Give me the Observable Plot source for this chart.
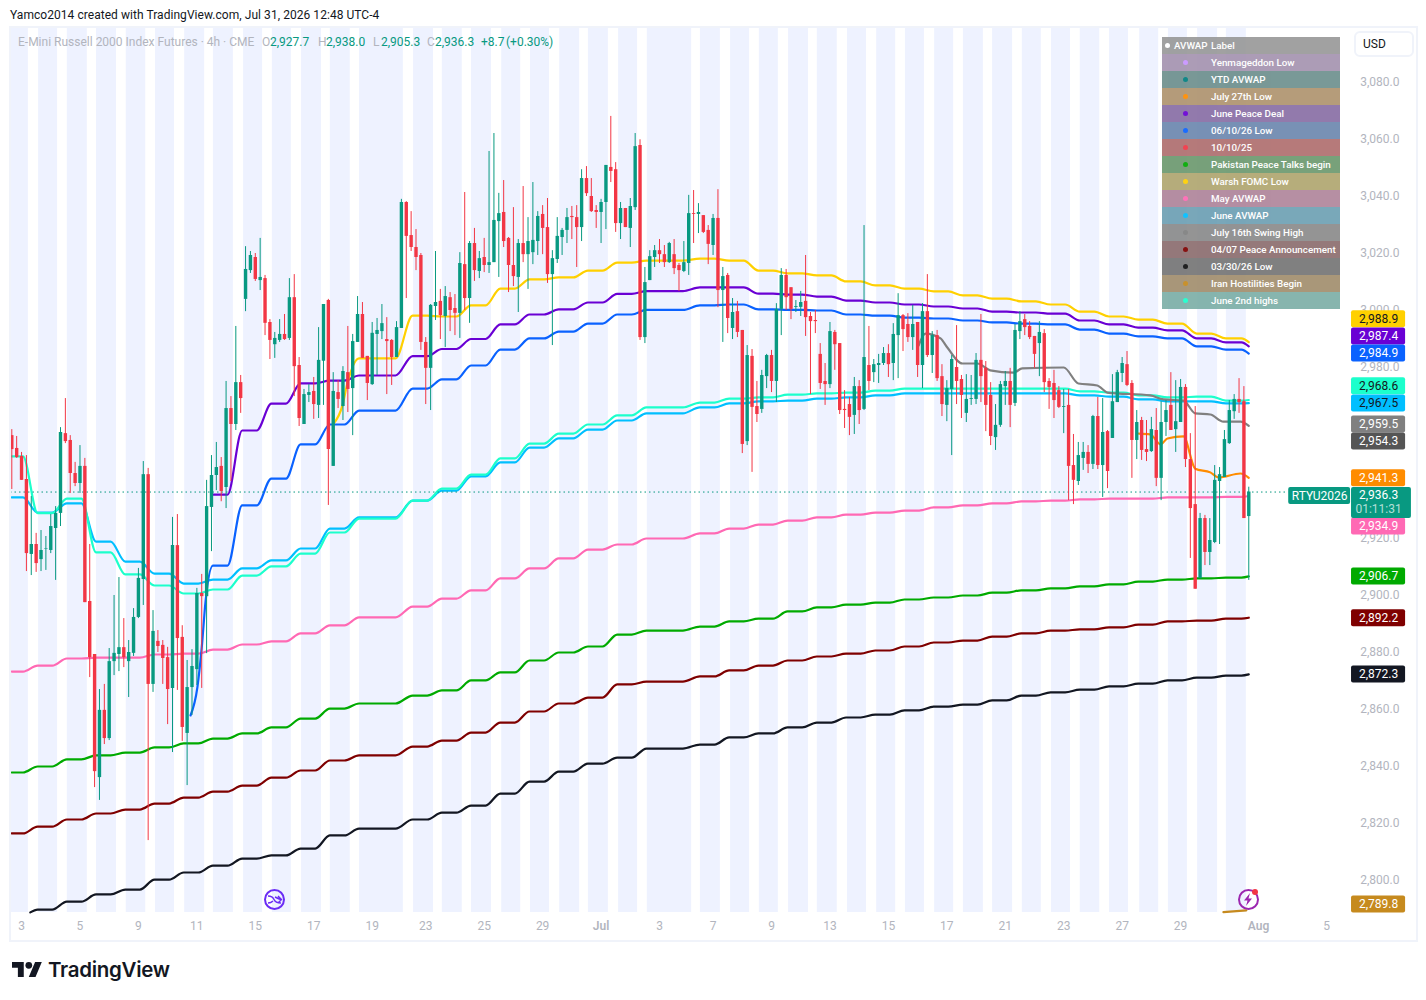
<!DOCTYPE html>
<html><head><meta charset="utf-8">
<script src="https://cdn.jsdelivr.net/npm/d3@7"></script>
<script src="https://cdn.jsdelivr.net/npm/@observablehq/plot@0.6"></script>
<style>
html,body{margin:0;padding:0;background:#fff;font-family:Roboto,sans-serif;}
#page{position:relative;width:1426px;height:1000px;overflow:hidden;}
#page svg{position:absolute;left:0;top:0;}
.abs{position:absolute;white-space:nowrap;line-height:14px;}
#frame{position:absolute;left:9px;top:26px;width:1405px;height:912px;border:2px solid #f0f3fa;pointer-events:none;}
#legend{position:absolute;left:1162px;top:37px;width:178px;}
#legend .row{position:relative;height:17px;opacity:.93;color:#fff;font-size:9.8px;font-weight:500;line-height:17px;}
#legend .row span{position:absolute;left:49px;white-space:nowrap;}
#legend .row i{position:absolute;left:21px;top:6px;width:5px;height:5px;border-radius:50%;}
</style></head><body><div id="page"></div>
<script>
const opens=[2956.1,2951.6,2948.8,2940.7,2914.4,2917.9,2912.6,2916.3,2915.8,2923.5,2928.8,2956.8,2954.4,2942.8,2939.3,2945.3,2897.9,2879.3,2836.1,2859.7,2849.8,2876.8,2879.3,2881.7,2876.8,2879.7,2892.3,2905.6,2942.4,2868.8,2883.9,2882.5,2878.2,2867.4,2917.5,2885.3,2851.6,2867.7,2874.0,2900.7,2899.6,2930.9,2942.1,2945.3,2937.9,2965.6,2960,2974.7,3003.9,3014,3018.6,3010.5,3011.2,2995.8,2988,2989.5,2991.6,2990.2,3004.5,2980.7,2960,2970.2,2971.6,2966.7,2982.2,3003.5,2945.3,2971.2,2966.3,2978.2,2972.6,2988.8,2998.6,2983.9,2974,2991.6,2992.6,2989.8,2989.5,2983.5,2993.7,3037.9,3026.3,3022.1,3019.3,2988.8,2979.7,3001.4,3003.2,2997.9,3004.5,3000.7,2999,3016.1,3004.2,3023.5,3013.7,3018.6,3015.8,3016.8,3031.2,3034.4,3025.3,3015.8,3011.6,3023.5,3019.6,3020.3,3024.2,3033.7,3029.1,3012.6,3017.9,3025.6,3028.1,3033,3032.6,3029.1,3046.3,3040,3035.1,3034.4,3037.9,3050.2,3049.4,3030.5,3035.8,3028.8,3036.1,3057.9,2990.5,3010.5,3018.6,3021,3019.6,3016.8,3019.6,3015.8,3013.7,3016.5,3034,3033.7,3033.3,3028.1,3022.8,3032.3,3007,3012.3,2993.7,2999.6,2993,2954,2983.9,2966.3,2965.3,2976.8,2984.2,2975.1,3000.4,3012.3,3008,3001.1,3001.1,3003.2,2997.9,2996.5,2984.6,2975.1,2974,2992.3,2988.4,2965.3,2967,2963.2,2973.3,2965.3,2980.7,2978.2,2980.7,2981.4,2984.9,2981.4,2991.2,2998.2,2995.1,2990.5,2995.8,2980.7,2999.6,2984.2,2991.2,2976.8,2966.7,2972.3,2980,2975.8,2963.9,2968.8,2968.8,2982.5,2979.7,2970.2,2955.4,2959.7,2973.3,2975.1,2967.4,2992.6,2996.8,2994.4,2990.9,2988.4,2991.9,2975.1,2974.4,2971.9,2966,2966.7,2945.6,2940,2948.1,2950.2,2946,2962.8,2945.6,2957.5,2955.1,2967.7,2977.9,2981,2974.4,2954.4,2961.4,2951.2,2950.5,2957.9,2941.1,2960.7,2966.7,2958.2,2960.7,2973,2947.7,2931.9,2905.9,2927,2915.1,2918.6,2940,2941.4,2953.3,2964.5,2968.8,2968,2927.7];
const highs=[2958.2,2955.8,2950.2,2949.1,2934.7,2921.8,2922.8,2920.7,2928.4,2931.2,2958.9,2969.1,2956.1,2946.7,2952.6,2948.1,2917.9,2879.3,2867,2868.8,2881.4,2900,2906.3,2891.9,2884.2,2895.4,2909.5,2947,2944.6,2894.7,2887.7,2884.2,2881.8,2927.4,2928.4,2889.4,2877.2,2881,2902.5,2907.4,2940.4,2949.1,2953.7,2948.4,2975.1,2969.8,2994.4,2977.2,3022.4,3020.7,3020,3025.3,3012.3,2996.8,2992.3,2996.8,2998.6,3011.2,3012.6,2983.5,2972.3,2974,2976.5,2994,3002.1,3003.9,2978.2,2975.4,2980.3,2994.4,2991.6,3004.9,3002.8,2983.9,2995.8,2997.2,3002.1,2997.5,2989.8,2996.1,3039,3038.2,3034.7,3028.4,3020,2990.5,3002.1,3020.7,3007.4,3008.4,3006.3,3005.6,3020.3,3041.4,3024.2,3028.8,3020.7,3025.3,3055.8,3062.1,3041.1,3045.6,3025.6,3036.1,3024.9,3043.5,3032.6,3044.9,3034.7,3036.8,3039.3,3021,3032.6,3028.8,3035.8,3036.5,3036.8,3049.4,3050.5,3046.3,3036.8,3039,3050.9,3068.1,3051.9,3037.9,3035.8,3039.3,3062.1,3059.9,3015.1,3021,3022.8,3024.9,3022.8,3023.9,3024.9,3016.5,3024.2,3040.4,3042.1,3037.5,3033.3,3029.8,3033.7,3042.4,3015.1,3013,3004.2,3003.2,2993,2987.7,2986.3,2975.1,2979,2984.6,2986,3002.4,3014.7,3014.4,3008,3003.5,3006.7,3019.3,2999.3,3000,2988.4,2981.4,2995.8,2993,2988.4,2971.9,2969.5,2976.5,2975.4,3029.8,2994.4,2982.8,2984.6,2987,2988,2995.4,3005.9,2998.6,2998.9,3001.8,2995.8,3002.4,3012.6,2992.6,2993,2981,2975.4,2984.2,2994.7,2977.2,2977.5,2977.2,2984.9,2998.6,2982.1,2974.7,2967,2975.1,2978.6,2979.7,2995.1,2999.6,2998.6,2996.1,2990.9,2996.1,2993.3,2976.1,2979,2973.3,2972.3,2972.3,2956.5,2953.7,2953.7,2952.6,2963.2,2969.5,2969.1,2957.9,2977.5,2979,2983.5,2985.6,2975.4,2964.9,2962.5,2961.4,2962.5,2965.6,2968,2968.4,2978.2,2975.4,2975.8,2974,2956.8,2966.3,2928.8,2928.1,2927,2945.6,2944.9,2957.9,2968.4,2970.5,2976.1,2973.3,2938.0];
const lows=[2937.2,2948.1,2940.4,2908.4,2907,2908.1,2908.4,2908.8,2914.7,2905.3,2924.2,2953.3,2935.8,2938.2,2935.8,2897.5,2871.2,2832.6,2828.1,2847.7,2849.1,2871.9,2873.3,2874.7,2864.2,2878.6,2891.9,2896.5,2814,2866,2880,2868.8,2854.7,2844.9,2866.7,2848.8,2833.3,2857.9,2868.4,2867.4,2879.6,2915.4,2936.8,2932.9,2930.5,2940,2957.9,2963.9,2999.6,3013,3010.2,3007,2991.2,2982.8,2983.2,2988.8,2989.5,2989.5,2969.8,2959.3,2960,2967.7,2961.8,2962.1,2966.7,2931.6,2945.3,2965.6,2961.4,2964.2,2956.1,2988.8,2983.2,2968.4,2973.7,2977.2,2989.8,2970.5,2973.7,2983.5,2993.7,3004.2,3020.7,3014,2986,2967,2964.9,2996.5,2989.8,2987,2992.6,2991.2,2990.2,3000,2995.5,3010.2,3011.2,3013.3,3013,3016.8,3011.6,3022.1,3006.3,3008.4,2999.3,3016.8,3007.4,3016.1,3019.3,3019.6,3009.5,2987.7,3016.5,3019.3,3023.5,3024.9,3015.1,3024.2,3040,3034.4,3028.8,3023.5,3028.4,3044.9,3027.4,3024.9,3029.1,3022.1,3035.1,2989.5,2988.4,3010.5,3015.1,3016.5,3015.1,3016.5,3012.6,3006.7,3013.3,3012.3,3023.5,3027,3027,3016.1,3019.3,3001,2988.8,2991.9,2989.8,2990.5,2949.8,2952.6,2943.2,2960.7,2963.9,2972.6,2971.2,2967.7,2991.2,3000,2996.8,2999.3,2997.9,2990.9,2970.5,2991.9,2972.3,2966.7,2972.6,2979,2963.5,2958.6,2956.1,2956.5,2960,2964.9,2971.9,2974.7,2974.4,2980.7,2976.5,2975.4,2976.1,2985.6,2988.8,2986,2976.5,2972.6,2983.5,2977.9,2975.1,2962.8,2961,2949.1,2967,2962.1,2960.7,2966.7,2967,2967.7,2957.5,2952.6,2950.9,2959,2966.7,2958.9,2966.3,2989.8,2991.2,2989.8,2979.7,2976.8,2971.2,2965.3,2962.1,2965.6,2956.8,2933.3,2931.9,2938.6,2943.9,2942.8,2944.2,2944.2,2934.4,2937.5,2955.1,2967.7,2974.7,2973.3,2941.1,2947.7,2947.4,2947,2950.2,2938.2,2933.3,2955.8,2957.9,2950.2,2960.7,2944.9,2913,2902.2,2905.9,2910.5,2910.5,2918.2,2917.9,2941.4,2953,2961.8,2963.9,2927,2905.3];
const closes=[2951.2,2948.4,2940.4,2914.7,2917.9,2911.2,2915.8,2916.5,2924.2,2928.8,2957.2,2954,2942.8,2939.3,2945.3,2897.5,2878.2,2838.2,2859.7,2849.8,2876.8,2879.7,2881.7,2878.2,2880,2892.3,2906,2942.4,2868.8,2887.4,2882.1,2877.9,2867,2917.5,2884.9,2853.7,2867.7,2875.1,2900.7,2899.6,2931.2,2942.1,2944.9,2936.5,2965.6,2960,2974.7,2969.1,3014.4,3019.3,3010.9,3011.6,2995.5,2989.5,2990.2,2991.6,2989.8,3004.5,2980.3,2962.1,2970.5,2971.2,2967,2982.5,3002.1,2951.2,2971.6,2968.8,2978.6,2972.3,2989.1,2998.6,2983.2,2974.4,2992,2993,2995.4,2989.1,2983.5,2994,3037.9,3026,3022.1,3018.6,2988.8,2979.7,3001.8,3002.8,2998.2,3004.9,3000,2999,3016.5,3004.2,3023.5,3014,3018.2,3015.8,3016.8,3031.6,3034,3024.2,3015.8,3011.9,3023.5,3019.6,3024.2,3024.6,3033,3028.8,3012.6,3018.2,3026,3028.1,3032.6,3032.6,3029.1,3046.3,3041,3034.7,3034.4,3037.9,3050.9,3048.8,3030.5,3035.8,3029.1,3036.5,3057.5,2990.5,3009.8,3018.9,3021,3019.6,3016.8,3023.5,3014.7,3014,3016.8,3034,3033.7,3034.4,3027.4,3023.2,3032.3,3007,3011.9,2997.2,2999.3,2992.3,2953,2984.2,2966,2963.5,2977.2,2984.2,2975.1,3000.4,3012.3,3004.5,3000.4,3001.4,3002.8,2997.5,2996.1,2996.1,2974.4,2974,2992.6,2988,2964.9,2964.9,2962.5,2973.3,2964.9,2983.5,2975.1,2981,2981.4,2984.9,2981,2991.6,2998.2,2993.3,2990.5,2995.1,2980.7,2999.6,2984.2,2991.2,2976.1,2967,2972.6,2982.8,2975.1,2970.2,2968.8,2969.1,2982.5,2976.8,2966.7,2955.8,2959.7,2974,2975.1,2966.7,2993,2996.1,2994,2990.5,2984.6,2992.3,2974.7,2973,2968.4,2966,2966.3,2945.3,2940.4,2949.1,2950.2,2946,2962.8,2945.6,2957.2,2943.5,2968,2978.2,2981.4,2973.7,2954.4,2960.7,2950.9,2950.2,2958.2,2941.1,2960.7,2964.9,2957.9,2961,2973,2947.7,2930.5,2902.2,2927,2915.1,2919.3,2940.4,2942.4,2954.7,2964.9,2968.8,2967.7,2927,2936.3];

const bandStarts=[-0.3,5.5,11.4,17.4,23.5,29.5,35.5,41.4,47.6,53.5,59.5,65.4,71.4,82.5,88.4,94.4,100.6,106.5,112.5,118.4,124.6,130.5,141.4,147.6,153.5,159.5,165.4,171.6,177.6,183.5,189.5,195.4,201.4,207.5,213.5,219.4,225.4,231.6,237.5,243.5,249.4];
const bandEnds=[3.4,9.4,15.5,21.5,27.5,33.4,39.6,45.5,51.5,57.4,63.6,69.5,80.4,86.6,92.5,98.5,104.5,110.4,116.6,122.5,128.5,139.6,145.5,151.5,157.4,163.6,169.5,175.5,181.5,187.4,193.4,199.5,205.5,211.4,217.4,223.4,229.3,235.5,241.4,247.6,253.5];

const stepStarts=[0,5.3,11.3,17.3,23.3,29.3,35.3,41.3,47.3,53.3,59.3,65.3,71.3,82.3,88.3,94.3,100.3,106.3,112.3,118.3,124.3,130.3,141.3,147.3,153.3,159.3,165.3,171.3,177.3,183.3,189.3,195.3,201.3,207.3,213.3,219.3,225.3,231.3,237.3,243.3,249.3];
const stepEnds=[2.3,8.3,14.3,20.3,26.3,32.3,38.3,44.3,50.3,56.3,62.3,68.3,78.8,85.3,91.3,97.3,103.3,109.3,115.3,121.3,127.3,137.8,144.3,150.3,156.3,162.3,168.3,174.3,180.3,186.3,192.3,198.3,204.3,210.3,216.3,222.3,228.3,234.3,240.3,246.3,252.5];
const n=null;
const pinkValues=[2873.3,2875.4,2877.9,2878.2,2878.2,2879.3,2879.6,2881,2882.8,2883.9,2886.7,2889.5,2892.3,2896.1,2898.9,2901.8,2906,2909.5,2913,2916.1,2917.9,2920,2921.8,2923.5,2924.9,2926.3,2927.4,2928.4,2929.1,2929.8,2930.9,2931.6,2932.3,2933,2933.3,2933.7,2934,2934,2934.4,2934.4,2934.6];
const greenValues=[2837.9,2840,2842.5,2843.9,2844.9,2846.7,2848.1,2849.8,2851.6,2853.7,2856.8,2860.3,2862.1,2864.9,2866.7,2870.2,2873,2877.2,2880,2882.1,2886.3,2887.7,2889.1,2890.9,2891.9,2894.4,2895.8,2896.8,2897.5,2898.6,2899.3,2900,2901,2901.8,2902.5,2903.2,2903.9,2904.9,2905.6,2906,2906.3];
const darkRedValues=[2816.5,2818.9,2821.4,2823.5,2824.9,2827,2829.1,2831.2,2833.3,2836.1,2838.6,2842.1,2843.9,2847,2849.1,2851.9,2855.4,2859.3,2862.1,2864.2,2868.8,2869.8,2871.6,2873.7,2875.4,2877.2,2878.6,2879.6,2880.7,2882.1,2883.5,2884.2,2885.6,2886.7,2887.7,2888.1,2888.8,2889.8,2890.9,2891.2,2891.9];
const blackValues=[n,2789.8,2792.6,2795.1,2796.8,2800.3,2802.8,2805.2,2807.7,2808.8,2811.2,2815.8,2818.2,2821.4,2823.8,2826.3,2830.5,2834.7,2838.2,2841,2843.1,2846.3,2847.7,2850.2,2851.6,2853.7,2855.4,2857.2,2858.2,2859.7,2861,2861.7,2863.2,2864.9,2866,2867,2868.1,2869.1,2870.2,2871.2,2871.9];
const cyanValues=[2934.4,2929.1,2932.3,2918.9,2911.9,2907.7,2904.2,2905.6,2909.5,2912.3,2916.5,2923.5,2927.4,2933.3,2936.8,2941.8,2946.7,2951.9,2955.1,2958.2,2961.4,2963.9,2966,2967.4,2968.1,2968.4,2969.1,2969.5,2970.2,2970.9,2970.9,2970.9,2970.9,2970.9,2970.9,2970.2,2969.8,2968.8,2968.1,2968.1,2967.4];
const aquaValues=[2948.8,2928.9,2934,2915.1,2907.4,2903.5,2900.7,2902.1,2907,2910.2,2914.7,2922.1,2927,2933.3,2937.5,2942.4,2948.1,2953.3,2956.8,2960,2963.2,2966,2967.7,2969.1,2969.5,2970.5,2970.9,2971.2,2971.9,2972.6,2972.6,2972.6,2972.6,2972.6,2972.6,2971.6,2971.2,2970.2,2969.5,2969.8,2968.4];
const blueValues=[n,n,n,n,n,n,n,2910.5,2931.6,2941,2953,2960,2964.9,2972.6,2975.8,2980.7,2986.3,2990.2,2992.6,2995.4,2998.6,3000.2,3001.8,3002.1,3000.4,3000.2,3000,2998.6,2998.2,2997.5,2997.2,2996.5,2995.8,2995.4,2995.1,2993.3,2991.9,2990.9,2990.2,2987.4,2986.3];
const purpleValues=[n,n,n,n,n,n,n,2935.4,2957.9,2967.3,2974.4,2975.4,2977.2,2984,2986.5,2990,2995.1,2998.6,3000.4,3002.8,3005.8,3006.8,3008.1,3008.1,3005.9,3005.6,3004.9,3003.5,3002.8,3002.1,3001.4,3000.7,2999.6,2999.3,2998.9,2996.5,2995.1,2994,2993,2990.2,2988.8];
const yellowValues=[n,n,n,n,n,n,n,n,n,n,n,n,2983.2,2998.2,2997.9,3001.8,3007.7,3010.9,3011.6,3014,3016.8,3017.5,3018.2,3017.5,3014,3013,3012.3,3010.2,3008.8,3007.7,3006.7,3005.3,3004.2,3003.2,3002.1,2999.6,2997.9,2996.8,2995.4,2991.9,2990.2];
const blackLeadX=[3.8], blackLeadY=[2788.8];
const blueLeadX=[36.7,38.1,39,39.8], blueLeadY=[2857.9,2867.7,2881.7,2898.2];
const yellowLeadX=[66.1,67.9,68.9], yellowLeadY=[2960.3,2966.7,2974.4];
const grayX=[186.2,187.6,190.7,192.1,195.2,198.3,200.9,205.7,207.5,216,219,222.9,225,233.8,236.5,240.6,243,246.1,248.8,252.3,254];
const grayValues=[2987.7,2991.9,2990.2,2987,2981.4,2981.4,2979,2978.2,2979.7,2980,2974.4,2973.7,2971.2,2970.2,2968.8,2968.4,2963.9,2963.5,2961,2961,2959.5];
const orangeX=[231.4,233.8,235.9,237.3,240.6,243,246.1,247.8,252.3,254];
const orangeValues=[2956.8,2956.5,2953,2955.1,2955.8,2944.5,2943.2,2941.4,2942.8,2941.3];
const goldX=[248.8,253.5];
const goldValues=[2788.9,2789.5];

const priceTicks=[2800,2820,2840,2860,2880,2900,2920,2980,3000,3020,3040,3060,3080];
const dateTicks=[2,14,26,38,50,62,74,85,97,109,133,144,156,168,180,192,204,216,228,240,270];
const dateLabels=["3","5","9","11","15","17","19","23","25","29","3","7","9","13","15","17","21","23","27","29","5"];
const monthTicks=[121,256], monthLabels=["Jul","Aug"];

const tagValues=[2988.9,2987.4,2984.9,2968.6,2967.5,2959.5,2954.3,2941.3,2934.9,2906.7,2892.2,2872.3,2789.8];
const tagPlaces=[2996.9,2990.9,2984.9,2973.4,2967.4,2960,2954,2941.1,2924.2,2906.7,2892,2872.3,2791.6];
const tagFills=["#FFD000","#6A00D4","#0A62FF","#1CFFCC","#00BFFF","#808080","#555555","#FF8C00","#FF69B4","#00AA00","#7F0000","#131722","#C68A1E"];
const tagInks=["#131722","#fff","#fff","#131722","#131722","#fff","#fff","#fff","#fff","#fff","#fff","#fff","#fff"];

const legendLabels=["Yenmageddon Low","YTD AVWAP","July 27th Low","June Peace Deal","06/10/26 Low","10/10/25","Pakistan Peace Talks begin","Warsh FOMC Low","May AVWAP","June AVWAP","July 16th Swing High","04/07 Peace Announcement","03/30/26 Low","Iran Hostilities Begin","June 2nd highs"];
const legendDots=["#C995FF","#008080","#FF8C00","#6A00D4","#0A62FF","#F23645","#00AA00","#FFD000","#FF69B4","#00BFFF","#808080","#800000","#111111","#C68A1E","#1CFFCC"];
const legendFills=["#a695b1","#6f918f","#b09570","#8a70a6","#6e89b0","#b07070","#6e9a70","#b1a772","#b0869c","#6fa1b4","#8c8c8c","#8e6f70","#777777","#a3906f","#7eb0a8"];

const UP="#089981", DOWN="#F23645", LAST=2936.3, TAG_H=2.98;

const candles=d3.range(opens.length).map(i=>({i,o:opens[i],h:highs[i],l:lows[i],c:closes[i],col:closes[i]>=opens[i]?UP:DOWN}));
const bands=bandStarts.map((s,i)=>({s,e:bandEnds[i]}));

function stepLine(values,endValue,leadX=[],leadY=[]){
  const pts=leadX.map((x,i)=>({x,y:leadY[i]}));
  values.forEach((v,i)=>{ if(v!==null){ pts.push({x:stepStarts[i],y:v}); pts.push({x:stepEnds[i],y:v}); } });
  pts.push({x:254,y:endValue});
  return pts;
}
const xyLine=(xs,ys)=>xs.map((x,i)=>({x,y:ys[i]}));
const lines=[
  [stepLine(pinkValues,2934.9),"#FF69B4"],
  [stepLine(greenValues,2906.7),"#00AA00"],
  [stepLine(darkRedValues,2892.2),"#7F0000"],
  [stepLine(blackValues,2872.3,blackLeadX,blackLeadY),"#131722"],
  [stepLine(cyanValues,2967.5),"#00BFFF"],
  [stepLine(aquaValues,2968.6),"#1CFFCC"],
  [stepLine(blueValues,2984.9,blueLeadX,blueLeadY),"#0A62FF"],
  [stepLine(purpleValues,2987.4),"#6A00D4"],
  [stepLine(yellowValues,2988.9,yellowLeadX,yellowLeadY),"#FFD000"],
  [xyLine(grayX,grayValues),"#808080"],
  [xyLine(orangeX,orangeValues),"#FF8C00"],
  [xyLine(goldX,goldValues),"#C68A1E"]
];

const fmt=d3.format(",.1f");
const tags=tagValues.map((v,i)=>({v,p:tagPlaces[i],f:tagFills[i],t:tagInks[i]}));
const TAG_L=275.1,TAG_R=286.2,TAG_C=280.65;

const chart=Plot.plot({
  width:1426,height:1000,
  marginLeft:10,marginRight:27,marginTop:28,marginBottom:88,
  style:{background:"transparent",fontFamily:"Roboto,sans-serif",fontSize:"12px"},
  x:{domain:[-0.267,284.95]},
  y:{domain:[2788.77,3098.95]},
  marks:[
    Plot.rect(bands,{x1:"s",x2:"e",fill:"#EEF2FF"}),
    Plot.axisY(priceTicks,{anchor:"right",tickSize:0,tickPadding:0,textAnchor:"end",tickFormat:fmt,color:"#b2b5be",fontSize:12,label:null}),
    Plot.axisX(dateTicks,{anchor:"bottom",tickSize:0,tickPadding:9,tickFormat:d=>dateLabels[dateTicks.indexOf(d)],color:"#b2b5be",fontSize:12,label:null}),
    Plot.axisX(monthTicks,{anchor:"bottom",tickSize:0,tickPadding:9,tickFormat:d=>monthLabels[monthTicks.indexOf(d)],color:"#b2b5be",fontSize:12,fontWeight:600,label:null}),
    ...lines.map(([data,color])=>Plot.line(data,{x:"x",y:"y",stroke:color,strokeWidth:2.2,curve:"monotone-x"})),
    Plot.ruleY([LAST],{x1:-0.267,x2:262.2,stroke:UP,strokeWidth:1,strokeDasharray:"1.5,3"}),
    Plot.ruleX(candles,{x:"i",y1:"l",y2:"h",stroke:"col",strokeWidth:1}),
    Plot.ruleX(candles,{x:"i",y1:"o",y2:"c",stroke:"col",strokeWidth:3.4}),
    Plot.rect(tags,{x1:TAG_L,x2:TAG_R,y1:d=>d.p-TAG_H,y2:d=>d.p+TAG_H,fill:"f",rx:2}),
    Plot.text(tags,{x:TAG_C,y:"p",text:d=>fmt(d.v),fill:"t",fontSize:12}),
    Plot.rect([LAST],{x1:TAG_L,x2:287.4,y1:2927,y2:2937.9,fill:UP,rx:2}),
    Plot.text([LAST],{x:TAG_C,y:2935.1,text:d=>fmt(d),fill:"#fff",fontSize:12}),
    Plot.text(["01:11:31"],{x:TAG_C,y:2930.2,text:d=>d,fill:"#ffffff",fillOpacity:.7,fontSize:12}),
    Plot.rect(["RTYU2026"],{x1:262.2,x2:274.9,y1:2931.9,y2:2937.9,fill:UP,rx:2}),
    Plot.text(["RTYU2026"],{x:268.55,y:2934.9,text:d=>d,fill:"#fff",fontSize:12})
  ]
});
const page=document.getElementById("page");
page.appendChild(chart);

function put(txt,left,top,color,extra=""){
  const d=document.createElement("div");
  d.className="abs";d.textContent=txt;
  d.style.cssText=`left:${left}px;top:${top}px;color:${color};font-size:12px;${extra}`;
  page.appendChild(d);
}
const f=document.createElement("div");f.id="frame";page.appendChild(f);
put("Yamco2014 created with TradingView.com, Jul 31, 2026 12:48 UTC-4",10,8,"#131722","letter-spacing:.05px;");
put("E-Mini Russell 2000 Index Futures · 4h · CME",18,35,"#b2b5be");
[["O",262,"#b2b5be"],["2,927.7",270,UP],["H",318,"#b2b5be"],["2,938.0",326,UP],["L",373,"#b2b5be"],["2,905.3",381,UP],["C",427,"#b2b5be"],["2,936.3",435,UP],["+8.7",481,UP],["(+0.30%)",506,UP]].forEach(([t,l,c])=>put(t,l,35,c));

const usd=document.createElement("div");usd.className="abs";usd.textContent="USD";
usd.style.cssText="left:1354px;top:31px;width:49px;height:22px;padding-left:7px;border:2px solid #f0f3fa;border-radius:6px;font-size:12px;line-height:22px;color:#131722;background:#fff;";
page.appendChild(usd);

const legend=document.createElement("div");legend.id="legend";
legend.innerHTML=`<div class="row" style="background:#9a9a9a"><b style="position:absolute;left:3px;top:6px;width:5px;height:5px;border-radius:50%;background:#fff"></b><span style="left:12px">AVWAP</span><span>Label</span></div>`+
  legendLabels.map((t,i)=>`<div class="row" style="background:${legendFills[i]}"><i style="background:${legendDots[i]}"></i><span>${t}</span></div>`).join("");
page.appendChild(legend);

const deco=document.createElementNS("http://www.w3.org/2000/svg","svg");
deco.setAttribute("width",1426);deco.setAttribute("height",1000);
deco.innerHTML=`<g fill="none" stroke="#6a2cf5" stroke-width="2"><circle cx="274.5" cy="899.5" r="9.5"/><path d="M268 896c3 0 5 1 6 3.5s3 3.500 7 3.500M268 903c3 0 4-1 5-2M275 897c2 1 4 2 6 2.500M278 896l3.500 3.500-3 3" stroke-width="1.400"/></g>
<g fill="none" stroke="#9c27b0" stroke-width="2"><circle cx="1248.500" cy="899.500" r="9.500"/></g><path d="M1250 893l-6 7.500h3.500l-1.500 5.500 6-7.500h-3.500z" fill="#9c27b0"/><circle cx="1255" cy="892" r="3" fill="#F23645"/>
<g transform="translate(12 958.600) scale(.84)" fill="#131722"><path d="M14 22H7V11H0V4h14v18zM28 22h-8l7.500-18h8L28 22z"/><circle cx="20" cy="8" r="4"/></g>
<text x="48" y="977" font-family="Inter,Roboto,sans-serif" font-weight="600" font-size="20.5" fill="#131722" letter-spacing="-.3">TradingView</text>`;
page.appendChild(deco);
</script></body></html>
